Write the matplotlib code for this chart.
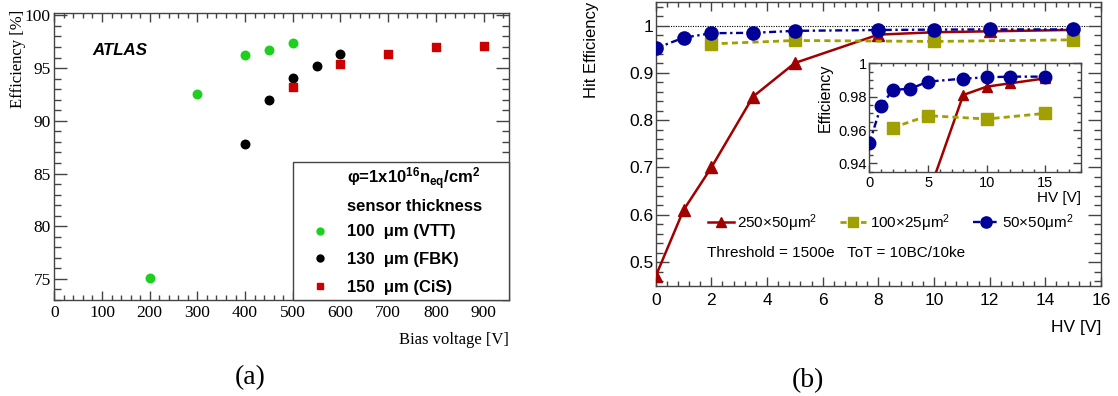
import matplotlib
matplotlib.use("Agg")
import matplotlib.pyplot as plt
from matplotlib.lines import Line2D
from matplotlib.patches import Rectangle
from matplotlib.ticker import MultipleLocator

plt.rcParams['mathtext.default'] = 'regular'

# ---------------- data: panel (a) ----------------
vtt_bias = [200, 300, 400, 450, 500]
vtt_eff = [75.1, 92.5, 96.2, 96.7, 97.4]
fbk_bias = [400, 450, 500, 550, 600]
fbk_eff = [87.8, 92.0, 94.1, 95.2, 96.3]
cis_bias = [500, 600, 700, 800, 900]
cis_eff = [93.2, 95.4, 96.3, 97.0, 97.1]
legend_a_labels = ['100  μm (VTT)', '130  μm (FBK)', '150  μm (CiS)']

# ---------------- data: panel (b) ----------------
hv_250x50 = [0, 1, 2, 3.5, 5, 8, 10, 12, 15]
eff_250x50 = [0.47, 0.61, 0.70, 0.85, 0.921, 0.981, 0.986, 0.988, 0.991]
hv_100x25 = [2, 5, 10, 15]
eff_100x25 = [0.9614, 0.9686, 0.9666, 0.970]
hv_50x50 = [0, 1, 2, 3.5, 5, 8, 10, 12, 15]
eff_50x50 = [0.952, 0.9744, 0.984, 0.9848, 0.989, 0.9908, 0.9916, 0.992, 0.992]
legend_b_labels = ['250×50μm$^{2}$', '100×25μm$^{2}$', '50×50μm$^{2}$']

W, H = 1118, 396
fig = plt.figure(figsize=(W / 100, H / 100), dpi=100)


def fr(x0, y0, x1, y1):
    return [x0 / W, 1 - y1 / H, (x1 - x0) / W, (y1 - y0) / H]


SPINE = '#444444'
SERIF = 'Liberation Serif'
SANS = 'Liberation Sans'
GREEN, BLACK, CRED = '#1fcf1f', 'black', '#cc0000'

# ================= Panel (a) =================
axa = fig.add_axes(fr(54.3, 13.3, 509.3, 300))
axa.scatter(vtt_bias, vtt_eff, s=8.5**2 * 0.52, color=GREEN, zorder=3)
axa.scatter(fbk_bias, fbk_eff, s=8.5**2 * 0.52, color=BLACK, zorder=3)
axa.scatter(cis_bias, cis_eff, s=7**2 * 0.52, marker='s', color=CRED, zorder=3)
axa.set_xlim(0, 954)
axa.set_ylim(73, 100.2)
axa.xaxis.set_major_locator(MultipleLocator(100))
axa.xaxis.set_minor_locator(MultipleLocator(20))
axa.yaxis.set_major_locator(MultipleLocator(5))
axa.yaxis.set_minor_locator(MultipleLocator(1))
axa.tick_params(which='both', direction='in', top=True, right=True, color=SPINE, width=1)
axa.tick_params(axis='x', which='major', length=6.5, pad=3.5)
axa.tick_params(axis='x', which='minor', length=3.3)
axa.tick_params(axis='y', which='major', length=9.5, pad=2.5)
axa.tick_params(axis='y', which='minor', length=5)
for lab in axa.get_xticklabels() + axa.get_yticklabels():
    lab.set_fontfamily(SERIF)
    lab.set_fontsize(12.5)
for sp in axa.spines.values():
    sp.set_color(SPINE)
    sp.set_linewidth(1)
axa.set_xlabel('Bias voltage [V]', fontfamily=SERIF, fontsize=12, loc='right')
axa.xaxis.set_label_coords(1.0, -0.112)
axa.set_ylabel('Efficiency [%]', fontfamily=SERIF, fontsize=12, loc='top')
axa.yaxis.set_label_coords(-0.062, 1.012)
axa.text(0.0844, 0.8696, 'ATLAS', transform=axa.transAxes, fontfamily=SANS,
         fontweight='bold', fontstyle='italic', fontsize=12.2, va='center', ha='left')

# legend box of panel (a)
axa.add_patch(Rectangle((0.5237, 0.0), 1 - 0.5237, 0.4803, transform=axa.transAxes,
                        facecolor='white', edgecolor=SPINE, lw=1, zorder=5, clip_on=False))
axa.text(0.6426, 0.423, 'φ=1x10$^{16}$n$_{eq}$/cm$^{2}$', transform=axa.transAxes,
         fontfamily=SANS, fontweight='bold', fontsize=12, ha='left', va='center', zorder=6)
axa.text(0.6426, 0.326, 'sensor thickness', transform=axa.transAxes,
         fontfamily=SANS, fontweight='bold', fontsize=12, ha='left', va='center', zorder=6)
h_vtt = Line2D([], [], linestyle='none', marker='o', color=GREEN, markersize=5)
h_fbk = Line2D([], [], linestyle='none', marker='o', color=BLACK, markersize=5)
h_cis = Line2D([], [], linestyle='none', marker='s', color=CRED, markersize=4.5)
leg = axa.legend([h_vtt, h_fbk, h_cis], legend_a_labels,
                 loc='upper left', bbox_to_anchor=(0.5657, 0.2637), borderaxespad=0,
                 frameon=False, prop={'family': SANS, 'weight': 'bold', 'size': 12},
                 handlelength=1.0, handletextpad=1.1, labelspacing=0.77, borderpad=0)
leg.set_zorder(7)
fig.text(250 / W, 1 - 378 / H, '(a)', fontfamily=SERIF, fontsize=20, ha='center', va='center')

# ================= Panel (b) =================
axb = fig.add_axes(fr(655.7, 2, 1101, 285.7))
RED, OLIVE, BLUE = '#a00000', '#a0a000', '#000099'


def draw_series(ax, ms_scale=1.0):
    ax.plot(hv_250x50, eff_250x50, color=RED, lw=1.8, marker='^', markersize=8 * ms_scale,
            zorder=3, label=legend_b_labels[0])
    ax.plot(hv_100x25, eff_100x25, color=OLIVE, lw=2.0, linestyle=(0, (2.2, 1.5)),
            marker='s', markersize=9 * ms_scale, zorder=3, label=legend_b_labels[1])
    ax.plot(hv_50x50, eff_50x50, color=BLUE, lw=1.7, linestyle=(0, (3, 1.5, 1, 1.5)),
            marker='o', markersize=9.5 * ms_scale, zorder=4, label=legend_b_labels[2])


draw_series(axb)
axb.hlines(1.0, 0.45, 15.5, colors='black', linestyles=(0, (1, 1.2)), lw=0.8, zorder=1)
axb.set_xlim(0, 16)
axb.set_ylim(0.45, 1.05)
axb.xaxis.set_major_locator(MultipleLocator(2))
axb.xaxis.set_minor_locator(MultipleLocator(0.4))
axb.yaxis.set_major_locator(MultipleLocator(0.1))
axb.yaxis.set_minor_locator(MultipleLocator(0.02))
axb.yaxis.set_major_formatter(plt.FuncFormatter(lambda v, p: ('%g' % round(v, 3))))
axb.tick_params(which='both', direction='in', top=True, right=True, color=SPINE, width=1)
axb.tick_params(axis='x', which='major', length=6.5, pad=5)
axb.tick_params(axis='x', which='minor', length=3.3)
axb.tick_params(axis='y', which='major', length=9.5, pad=1.7)
axb.tick_params(axis='y', which='minor', length=5)
for lab in axb.get_xticklabels() + axb.get_yticklabels():
    lab.set_fontfamily(SANS)
    lab.set_fontsize(12.5)
for sp in axb.spines.values():
    sp.set_color(SPINE)
    sp.set_linewidth(1)
axb.set_xlabel('HV [V]', fontfamily=SANS, fontsize=12.5, loc='right')
axb.xaxis.set_label_coords(1.0, -0.121)
axb.set_ylabel('Hit Efficiency', fontfamily=SANS, fontsize=12, loc='top')
axb.yaxis.set_label_coords(-0.127, 1.0)
legb = axb.legend(loc='center left', bbox_to_anchor=(0.118, 0.221), ncol=3, frameon=False,
                  prop={'family': SANS, 'size': 11}, handlelength=1.7, handletextpad=0.2,
                  columnspacing=1.5, borderaxespad=0, borderpad=0, markerscale=0.85)
axb.text(0.1145, 0.1142, 'Threshold = 1500e   ToT = 10BC/10ke', transform=axb.transAxes,
         fontfamily=SANS, fontsize=11, ha='left', va='center')
fig.text(808 / W, 1 - 381 / H, '(b)', fontfamily=SERIF, fontsize=20, ha='center', va='center')

# ---------------- inset ----------------
axi = fig.add_axes(fr(869.3, 63.3, 1080.7, 171.7))
axi.set_facecolor('white')
draw_series(axi, ms_scale=0.95)
axi.set_xlim(0, 18)
axi.set_ylim(0.935, 1.0)
axi.xaxis.set_major_locator(MultipleLocator(5))
axi.xaxis.set_minor_locator(MultipleLocator(1))
axi.yaxis.set_major_locator(MultipleLocator(0.02))
axi.yaxis.set_minor_locator(MultipleLocator(0.005))
axi.yaxis.set_major_formatter(plt.FuncFormatter(lambda v, p: ('%g' % round(v, 3))))
axi.tick_params(which='both', direction='in', top=True, right=True, color=SPINE, width=1)
axi.tick_params(axis='x', which='major', length=5, pad=3.0)
axi.tick_params(axis='x', which='minor', length=2.5)
axi.tick_params(axis='y', which='major', length=6, pad=1.5)
axi.tick_params(axis='y', which='minor', length=3)
for lab in axi.get_xticklabels() + axi.get_yticklabels():
    lab.set_fontfamily(SANS)
    lab.set_fontsize(10.5)
for sp in axi.spines.values():
    sp.set_color(SPINE)
    sp.set_linewidth(1)
axi.set_xlabel('HV [V]', fontfamily=SANS, fontsize=11, loc='right')
axi.xaxis.set_label_coords(1.0, -0.175)
axi.set_ylabel('Efficiency', fontfamily=SANS, fontsize=11.5, loc='top')
axi.yaxis.set_label_coords(-0.172, 1.0)

fig.savefig('out.png', dpi=100)
